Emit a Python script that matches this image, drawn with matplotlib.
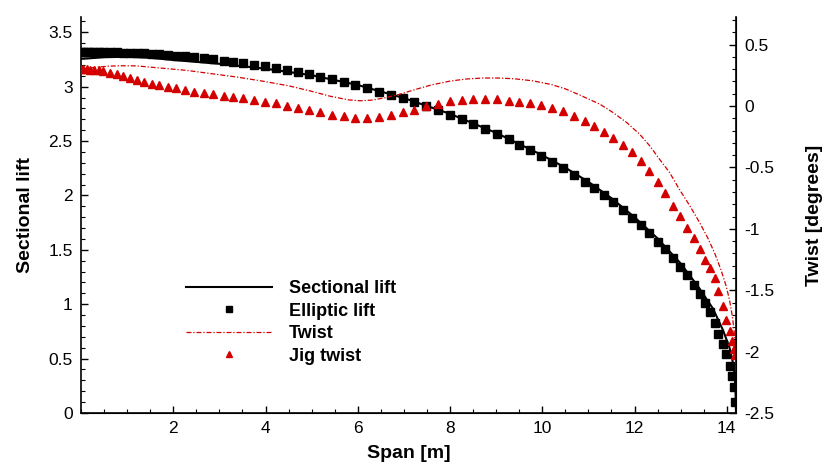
import matplotlib
matplotlib.use("Agg")
import matplotlib.pyplot as plt
from matplotlib.ticker import MultipleLocator, StrMethodFormatter

plt.rcParams['font.family'] = ['Liberation Sans', 'DejaVu Sans']
plt.rcParams['axes.unicode_minus'] = False

# spanwise stations of the marker data [m]
span_pts = [0.0, 0.05, 0.12, 0.2, 0.29, 0.38, 0.47, 0.62, 0.77, 0.92, 1.07, 1.22,
            1.37, 1.53, 1.70, 1.88, 2.06, 2.26, 2.46, 2.66, 2.87, 3.09, 3.30, 3.52,
            3.75, 3.98, 4.22, 4.46, 4.70, 4.94, 5.18, 5.44, 5.70, 5.94, 6.21, 6.47,
            6.73, 6.97, 7.23, 7.49, 7.75, 8.0, 8.27, 8.50, 8.76, 9.02, 9.27, 9.50,
            9.74, 9.97, 10.21, 10.45, 10.69, 10.92, 11.12, 11.33, 11.54, 11.74, 11.94,
            12.13, 12.31, 12.5, 12.66, 12.83, 12.98, 13.13, 13.28, 13.41, 13.52, 13.63,
            13.74, 13.82, 13.91, 13.99, 14.06, 14.11, 14.15, 14.18]

elliptic_lift = [3.32, 3.32, 3.32, 3.32, 3.319, 3.319, 3.318, 3.317, 3.315, 3.313, 3.311,
                 3.308, 3.305, 3.301, 3.296, 3.291, 3.285, 3.278, 3.270, 3.261, 3.251,
                 3.240, 3.229, 3.216, 3.202, 3.187, 3.170, 3.152, 3.133, 3.113, 3.091,
                 3.067, 3.041, 3.016, 2.986, 2.955, 2.923, 2.893, 2.857, 2.821, 2.782,
                 2.743, 2.699, 2.660, 2.613, 2.564, 2.515, 2.468, 2.416, 2.364, 2.307,
                 2.248, 2.185, 2.122, 2.065, 2.0, 1.94, 1.865, 1.797, 1.726, 1.655, 1.575,
                 1.504, 1.423, 1.346, 1.265, 1.176, 1.092, 1.01, 0.925, 0.83, 0.73, 0.63,
                 0.54, 0.43, 0.34, 0.24, 0.1]

jig_twist = [0.30, 0.30, 0.298, 0.296, 0.293, 0.29, 0.287, 0.273, 0.26, 0.246, 0.23,
             0.213, 0.197, 0.183, 0.17, 0.156, 0.143, 0.129, 0.116, 0.105, 0.094, 0.083,
             0.072, 0.062, 0.048, 0.034, 0.021, 0.002, -0.017, -0.036, -0.052, -0.072,
             -0.085, -0.097, -0.10, -0.088, -0.074, -0.052, -0.031, -0.003, 0.015, 0.037,
             0.051, 0.056, 0.056, 0.054, 0.04, 0.034, 0.021, 0.007, -0.015, -0.044, -0.08,
             -0.12, -0.161, -0.215, -0.264, -0.316, -0.378, -0.451, -0.528, -0.617,
             -0.712, -0.813, -0.899, -0.994, -1.078, -1.165, -1.255, -1.323, -1.404,
             -1.51, -1.627, -1.74, -1.836, -1.917, -1.98, -2.03]

# sectional lift curve
lift_span = [0, 0.5, 1.0, 1.5, 2.0, 3.0, 4.0, 5.0, 6.0, 7.0, 8.0, 9.0, 10.0, 10.5, 11.0,
             11.5, 12.0, 12.5, 13.0, 13.4, 13.7, 13.92, 14.06, 14.13, 14.17, 14.19, 14.2]
sectional_lift = [3.255, 3.27, 3.275, 3.265, 3.245, 3.21, 3.165, 3.105, 3.015, 2.895,
                  2.75, 2.575, 2.37, 2.255, 2.125, 1.975, 1.8, 1.605, 1.375, 1.15, 0.96,
                  0.76, 0.6, 0.47, 0.36, 0.2, 0.0]

# twist curve [deg]
twist_span = [0, 0.3, 0.6, 0.9, 1.2, 1.7, 2.3, 2.8, 3.4, 3.9, 4.5, 5.0, 5.4, 5.8, 6.05,
              6.3, 6.6, 6.9, 7.25, 7.6, 8.0, 8.35, 8.7, 9.05, 9.4, 9.8, 10.2, 10.5, 10.8,
              11.25, 11.53, 11.83, 12.11, 12.33, 12.54, 12.76, 12.97, 13.2, 13.41, 13.59,
              13.74, 13.88, 13.99, 14.06, 14.12, 14.16, 14.19]
twist = [0.295, 0.315, 0.325, 0.328, 0.327, 0.31, 0.29, 0.265, 0.235, 0.205, 0.165, 0.12,
         0.08, 0.05, 0.043, 0.048, 0.068, 0.095, 0.135, 0.172, 0.203, 0.22, 0.228, 0.228,
         0.222, 0.205, 0.175, 0.14, 0.092, 0.015, -0.052, -0.134, -0.229, -0.324, -0.432,
         -0.541, -0.677, -0.813, -0.948, -1.075, -1.2, -1.34, -1.47, -1.58, -1.71, -1.83,
         -2.0]

red = '#d40000'

fig = plt.figure(figsize=(8.25, 4.66), dpi=100)
ax = fig.add_axes([0.0982, 0.1137, 0.7939, 0.8498])
ax2 = ax.twinx()

l1, = ax.plot(lift_span, sectional_lift, color='black', lw=1.5, label='Sectional lift')
l2, = ax.plot(span_pts, elliptic_lift, ls='none', marker='s', ms=5.8, color='black',
              label='Elliptic lift')
l3, = ax2.plot(twist_span, twist, color=red, lw=0.9, dashes=(4, 1.5, 1, 1.5), label='Twist')
l4, = ax2.plot(span_pts, jig_twist, ls='none', marker='^', ms=6, color=red,
               label='Jig twist')

ax.set_xlim(0, 14.2)
ax.set_ylim(0, 3.64)
ax2.set_ylim(-2.5, 0.725)

ax.set_xticks([2, 4, 6, 8, 10, 12, 14])
ax.xaxis.set_minor_locator(MultipleLocator(0.5))
ax.yaxis.set_major_locator(MultipleLocator(0.5))
ax.yaxis.set_minor_locator(MultipleLocator(0.1))
ax2.yaxis.set_major_locator(MultipleLocator(0.5))
ax2.yaxis.set_minor_locator(MultipleLocator(0.1))
ax.yaxis.set_major_formatter(StrMethodFormatter('{x:g}'))
ax2.yaxis.set_major_formatter(StrMethodFormatter('{x:g}'))

for a in (ax, ax2):
    a.spines['top'].set_visible(False)
    a.tick_params(which='major', direction='in', length=5, width=1, labelsize=12.5, pad=6)
    a.tick_params(which='minor', direction='in', length=3, width=0.8)
ax2.spines['left'].set_visible(False)
for s in ('left', 'bottom'):
    ax.spines[s].set_linewidth(1.2)
ax2.spines['right'].set_linewidth(1.2)

ax.set_xlabel('Span [m]', fontsize=14, fontweight='bold', labelpad=6)
ax.set_ylabel('Sectional lift', fontsize=14, fontweight='bold', labelpad=10)
ax2.set_ylabel('Twist [degrees]', fontsize=14, fontweight='bold', labelpad=23)

ax.legend(handles=[l1, l2, l3, l4], loc='upper left', bbox_to_anchor=(0.16, 0.335),
          frameon=False, borderpad=0, borderaxespad=0, handlelength=4.8,
          handletextpad=0.9, labelspacing=0.3, markerscale=0.7,
          prop={'size': 13, 'weight': 'bold'})

fig.savefig('out.png', dpi=100)
